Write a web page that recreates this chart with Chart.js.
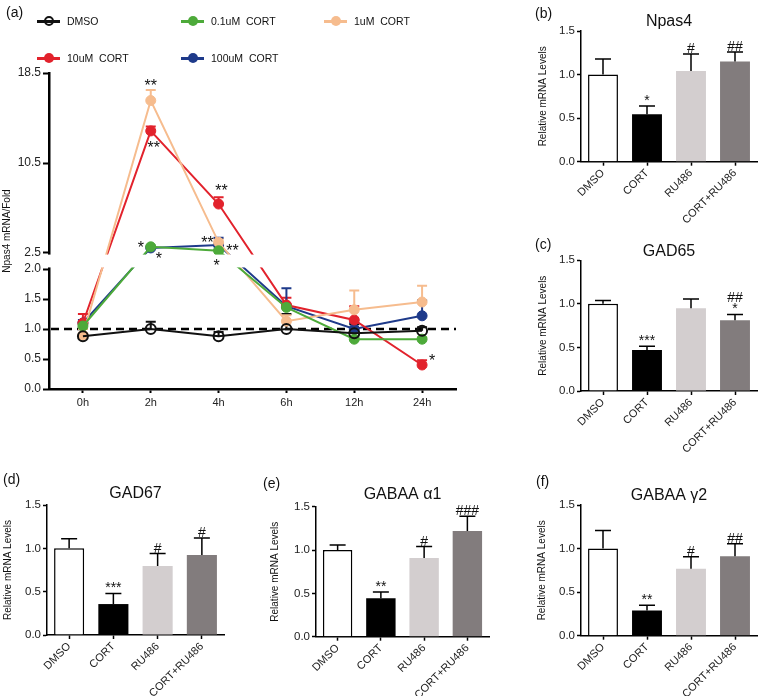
<!DOCTYPE html>
<html>
<head>
<meta charset="utf-8">
<script src="https://cdn.jsdelivr.net/npm/chart.js@4.4.1/dist/chart.umd.min.js"></script>
<style>
  body { margin: 0; background: #fff; font-family: "Liberation Sans", Arial, sans-serif; }
  #fig { position: relative; width: 760px; height: 696px; overflow: hidden; background: #fff; }
  #fig canvas { position: absolute; }
  .tag { position: absolute; font-size: 14px; line-height: 14px; color: #111; }
  .leg { position: absolute; font-size: 10.5px; line-height: 12px; color: #111; white-space: pre; }
  .mk { position: absolute; width: 23px; height: 2.5px; }
  .mk i { position: absolute; left: 6.5px; top: -4px; width: 10px; height: 10px; border-radius: 50%; box-sizing: border-box; }
</style>
</head>
<body>
<div id="fig">
  <canvas id="cA" width="490" height="440" style="left:0;top:0"></canvas>
  <canvas id="cB" width="260" height="232" style="left:500px;top:0"></canvas>
  <canvas id="cC" width="260" height="232" style="left:500px;top:220px"></canvas>
  <canvas id="cD" width="250" height="246" style="left:0;top:450px"></canvas>
  <canvas id="cE" width="250" height="246" style="left:250px;top:450px"></canvas>
  <canvas id="cF" width="260" height="246" style="left:500px;top:450px"></canvas>
  <div id="legendA"></div>
  <div class="tag" style="left:6px;top:5px">(a)</div>
  <div class="tag" style="left:535px;top:6px">(b)</div>
  <div class="tag" style="left:535px;top:237px">(c)</div>
  <div class="tag" style="left:3px;top:472px">(d)</div>
  <div class="tag" style="left:263px;top:476px">(e)</div>
  <div class="tag" style="left:536px;top:474px">(f)</div>
</div>
<script>
// ---- (a) time course, Npas4 fold change ----
const TIME_POINTS = ['0h', '2h', '4h', '6h', '12h', '24h'];
const SERIES_LABELS = ['DMSO', '0.1uM  CORT', '1uM  CORT', '10uM  CORT', '100uM  CORT'];
const SERIES_COLORS = ['#111111', '#4DAA3A', '#F6BC8E', '#E2222C', '#1E3A8A'];

const DMSO_FOLD = [0.88, 1.0, 0.88, 1.0, 0.93, 0.97];
const DMSO_SEM = [0.12, 0.12, 0.07, 0.25, 0.15, 0.06];
const CORT_01_FOLD = [1.05, 3.05, 2.7, 1.36, 0.83, 0.83];
const CORT_01_SEM = [0.06, 0.1, 0.1, 0.05, 0.04, 0.03];
const CORT_1_FOLD = [0.9, 16.05, 3.45, 1.13, 1.32, 1.45];
const CORT_1_SEM = [0.1, 0.95, 0.3, 0.1, 0.32, 0.27];
const CORT_10_FOLD = [1.1, 13.35, 6.85, 1.4, 1.15, 0.4];
const CORT_10_SEM = [0.15, 0.4, 0.6, 0.12, 0.23, 0.08];
const CORT_100_FOLD = [1.1, 2.95, 3.2, 1.38, 1.0, 1.22];
const CORT_100_SEM = [0.05, 0.1, 0.65, 0.3, 0.1, 0.26];

const FOLD_TICKS = [0, 0.5, 1.0, 1.5, 2.0, 2.5, 10.5, 18.5];
const BASELINE_FOLD = 1.0;

// significance marks: [series, time point, text]
const TIME_MARKS = [[2, 1, '**'], [3, 1, '**'], [3, 2, '**'], [1, 1, '*'], [4, 1, '*'],
                    [2, 2, '**'], [4, 2, '**'], [1, 2, '*'], [3, 5, '*']];
// where each mark sits relative to its point, in px
const TIME_MARK_OFFSETS = [[0, -19], [3, 13], [3, -17], [-10, -3], [8, 7],
                           [-11, -3], [14, 2], [-2, 11], [10, -8]];

// ---- (b)-(f) relative mRNA levels ----
const GROUPS = ['DMSO', 'CORT', 'RU486', 'CORT+RU486'];
const GROUP_FILLS = ['#ffffff', '#000000', '#D3CECF', '#827C7D'];

const NPAS4_LEVEL = [1.0, 0.545, 1.04, 1.15];
const NPAS4_SEM = [0.18, 0.095, 0.195, 0.11];
const NPAS4_MARKS = ['', '*', '#', '##'];

const GAD65_LEVEL = [1.0, 0.47, 0.95, 0.813];
const GAD65_SEM = [0.04, 0.045, 0.107, 0.065];
const GAD65_MARKS = ['', '***', '', '##\n*'];

const GAD67_LEVEL = [1.0, 0.357, 0.796, 0.923];
const GAD67_SEM = [0.11, 0.123, 0.144, 0.197];
const GAD67_MARKS = ['', '***', '#', '#'];

const GABRA1_LEVEL = [1.0, 0.443, 0.908, 1.22];
const GABRA1_SEM = [0.058, 0.073, 0.132, 0.17];
const GABRA1_MARKS = ['', '**', '#', '###'];

const GABRG2_LEVEL = [1.0, 0.29, 0.767, 0.913];
const GABRG2_SEM = [0.207, 0.06, 0.138, 0.141];
const GABRG2_MARKS = ['', '**', '#', '##'];

Chart.defaults.font.family = '"Liberation Sans", Arial, sans-serif';
Chart.defaults.color = '#222';

// y scale with a break between 2.0 and 2.5 (GraphPad style)
const BREAK_LOW = 2.0, BREAK_HIGH = 2.5;
const LOWER_SHARE = 120 / 316, GAP_SHARE = 16 / 316;

class BrokenLinearScale extends Chart.LinearScale {
  toDecimal(v) {
    if (v <= BREAK_LOW) return (v - this.min) / (BREAK_LOW - this.min) * LOWER_SHARE;
    if (v <= BREAK_HIGH) return LOWER_SHARE + (v - BREAK_LOW) / (BREAK_HIGH - BREAK_LOW) * GAP_SHARE;
    return LOWER_SHARE + GAP_SHARE + (v - BREAK_HIGH) / (this.max - BREAK_HIGH) * (1 - LOWER_SHARE - GAP_SHARE);
  }
  getPixelForValue(v) {
    if (v === null || isNaN(v)) return NaN;
    return this.getPixelForDecimal(this.toDecimal(v));
  }
  getValueForPixel(p) {
    const d = this.getDecimalForPixel(p);
    if (d <= LOWER_SHARE) return this.min + d / LOWER_SHARE * (BREAK_LOW - this.min);
    if (d <= LOWER_SHARE + GAP_SHARE) return BREAK_LOW + (d - LOWER_SHARE) / GAP_SHARE * (BREAK_HIGH - BREAK_LOW);
    return BREAK_HIGH + (d - LOWER_SHARE - GAP_SHARE) / (1 - LOWER_SHARE - GAP_SHARE) * (this.max - BREAK_HIGH);
  }
}
BrokenLinearScale.id = 'brokenLinear';
BrokenLinearScale.defaults = Chart.LinearScale.defaults;
Chart.register(BrokenLinearScale);

// SEM whiskers (upper only)
function drawErrorBars(chart, opts) {
  const ctx = chart.ctx, y = chart.scales.y;
  chart.data.datasets.forEach((ds, i) => {
    if (!ds.errors) return;
    const meta = chart.getDatasetMeta(i);
    ctx.save();
    ctx.strokeStyle = ds.errorColor || '#000';
    ctx.lineWidth = opts.width;
    meta.data.forEach((el, j) => {
      const base = y.getPixelForValue(ds.data[j]);
      const top = y.getPixelForValue(ds.data[j] + ds.errors[j]);
      ctx.beginPath();
      ctx.moveTo(el.x, base);
      ctx.lineTo(el.x, top);
      ctx.moveTo(el.x - opts.cap / 2, top);
      ctx.lineTo(el.x + opts.cap / 2, top);
      ctx.stroke();
    });
    ctx.restore();
  });
}
const errorBars = {
  id: 'errorBars',
  beforeDatasetsDraw(chart, args, opts) { if (opts.under) drawErrorBars(chart, opts); },
  afterDatasetsDraw(chart, args, opts) { if (!opts.under) drawErrorBars(chart, opts); }
};

// dashed line at fold = 1
const refLine = {
  id: 'refLine',
  beforeDatasetsDraw(chart) {
    const {ctx, chartArea} = chart;
    const yy = chart.scales.y.getPixelForValue(BASELINE_FOLD);
    ctx.save();
    ctx.strokeStyle = '#000';
    ctx.lineWidth = 2.5;
    ctx.setLineDash([8, 5]);
    ctx.beginPath();
    ctx.moveTo(chartArea.left + 2, yy);
    ctx.lineTo(chartArea.right, yy);
    ctx.stroke();
    ctx.restore();
  }
};

// white band hiding the axis and lines inside the break
const gapBand = {
  id: 'gapBand',
  afterDatasetsDraw(chart) {
    const {ctx, chartArea} = chart;
    const y = chart.scales.y;
    const top = y.getPixelForValue(BREAK_HIGH) + 1.6;
    const bottom = y.getPixelForValue(BREAK_LOW) - 1.6;
    ctx.save();
    ctx.fillStyle = '#fff';
    ctx.fillRect(chartArea.left - 3, top, chartArea.right - chartArea.left + 3, bottom - top);
    ctx.restore();
  }
};

const timeMarks = {
  id: 'timeMarks',
  afterDatasetsDraw(chart) {
    const ctx = chart.ctx;
    ctx.save();
    ctx.fillStyle = '#111';
    ctx.font = '16px "Liberation Sans", Arial, sans-serif';
    ctx.textAlign = 'center';
    ctx.textBaseline = 'alphabetic';
    TIME_MARKS.forEach(([s, t, txt], k) => {
      const el = chart.getDatasetMeta(s).data[t];
      const [dx, dy] = TIME_MARK_OFFSETS[k];
      ctx.fillText(txt, el.x + dx, el.y + dy + 9);
    });
    ctx.restore();
  }
};

const barMarks = {
  id: 'barMarks',
  afterDatasetsDraw(chart) {
    const ctx = chart.ctx, y = chart.scales.y;
    const ds = chart.data.datasets[0];
    const meta = chart.getDatasetMeta(0);
    ctx.save();
    ctx.fillStyle = '#111';
    ctx.font = '14px "Liberation Sans", Arial, sans-serif';
    ctx.textAlign = 'center';
    ctx.textBaseline = 'alphabetic';
    meta.data.forEach((el, j) => {
      const lines = (ds.marks[j] || '').split('\n').filter(Boolean).reverse();
      let base = y.getPixelForValue(ds.data[j] + ds.errors[j]) - 1;
      lines.forEach(t => { ctx.fillText(t, el.x, base); base -= 11; });
    });
    ctx.restore();
  }
};

// ---- legend for (a) ----
const LEGEND_SLOTS = [[37, 21.5], [181, 21.5], [324, 21.5], [37, 58.5], [181, 58.5]];
const legendBox = document.getElementById('legendA');
SERIES_LABELS.forEach((name, i) => {
  const [x, y] = LEGEND_SLOTS[i];
  const c = SERIES_COLORS[i];
  const mk = document.createElement('span');
  mk.className = 'mk';
  mk.style.cssText = `left:${x}px;top:${y - 1.25}px;background:${c}`;
  const dot = document.createElement('i');
  dot.style.cssText = i === 0 ? `border:2px solid ${c};background:transparent` : `background:${c}`;
  mk.appendChild(dot);
  legendBox.appendChild(mk);
  const lab = document.createElement('span');
  lab.className = 'leg';
  lab.style.cssText = `left:${x + 30}px;top:${y - 6.5}px`;
  lab.textContent = name;
  legendBox.appendChild(lab);
});

// ---- chart (a) ----
const FOLDS = [DMSO_FOLD, CORT_01_FOLD, CORT_1_FOLD, CORT_10_FOLD, CORT_100_FOLD];
const FOLD_SEMS = [DMSO_SEM, CORT_01_SEM, CORT_1_SEM, CORT_10_SEM, CORT_100_SEM];

new Chart(document.getElementById('cA'), {
  type: 'line',
  data: {
    labels: TIME_POINTS,
    datasets: FOLDS.map((vals, i) => ({
      label: SERIES_LABELS[i],
      data: vals,
      errors: FOLD_SEMS[i],
      errorColor: SERIES_COLORS[i],
      borderColor: SERIES_COLORS[i],
      borderWidth: 2,
      tension: 0,
      pointRadius: 5,
      pointBorderWidth: i === 0 ? 2 : 1,
      pointBorderColor: SERIES_COLORS[i],
      pointBackgroundColor: i === 0 ? 'rgba(0,0,0,0)' : SERIES_COLORS[i]
    }))
  },
  options: {
    responsive: false,
    animation: false,
    events: [],
    layout: { padding: { top: 73, right: 34, bottom: 21, left: 0 } },
    plugins: {
      legend: { display: false },
      tooltip: { enabled: false },
      errorBars: { under: true, width: 2, cap: 10 }
    },
    scales: {
      x: {
        offset: true,
        grid: { display: true, drawOnChartArea: false, offset: false, tickLength: 4, tickColor: '#000', tickWidth: 2 },
        border: { color: '#000', width: 2.5 },
        ticks: { font: { size: 11 }, padding: 3, color: '#222' },
        afterFit: s => { s.height = 30; }
      },
      y: {
        type: 'brokenLinear',
        min: 0,
        max: 18.5,
        afterBuildTicks: s => { s.ticks = FOLD_TICKS.map(v => ({ value: v })); },
        ticks: { autoSkip: false, callback: v => Number(v).toFixed(1), font: { size: 12 }, padding: 2, color: '#222' },
        grid: { drawOnChartArea: false, tickLength: 6, tickColor: '#000', tickWidth: 2 },
        border: { color: '#000', width: 2.5 },
        title: { display: true, text: 'Npas4 mRNA/Fold', font: { size: 10 }, color: '#111', padding: { top: 1.5, bottom: 0 } },
        afterFit: s => { s.width = 49; }
      }
    }
  },
  plugins: [refLine, errorBars, gapBand, timeMarks]
});

// ---- bar panels ----
function barPanel(id, title, levels, sems, marks, geo) {
  return new Chart(document.getElementById(id), {
    type: 'bar',
    data: {
      labels: GROUPS,
      datasets: [{
        data: levels,
        errors: sems,
        marks: marks,
        errorColor: '#000',
        backgroundColor: GROUP_FILLS,
        borderColor: '#000',
        borderWidth: [1.5, 0, 0, 0],
        categoryPercentage: 1,
        barPercentage: 0.68
      }]
    },
    options: {
      responsive: false,
      animation: false,
      events: [],
      layout: { padding: { top: 0, right: geo.padRight, bottom: 0, left: 0 } },
      plugins: {
        legend: { display: false },
        tooltip: { enabled: false },
        title: {
          display: true, text: title, fullSize: false, color: '#111',
          font: { size: 16, weight: 'normal', lineHeight: 1 },
          padding: { top: geo.titleTop, bottom: geo.titleGap }
        },
        errorBars: { under: false, width: 1.5, cap: 16 }
      },
      scales: {
        x: {
          grid: { display: true, drawOnChartArea: false, offset: false, tickLength: 4, tickColor: '#000', tickWidth: 1.5 },
          border: { color: '#000', width: 1.5 },
          ticks: { minRotation: 45, maxRotation: 45, font: { size: 11 }, padding: 1, color: '#222' },
          afterFit: s => { s.height = geo.xh; }
        },
        y: {
          min: 0,
          max: 1.5,
          ticks: { stepSize: 0.5, callback: v => Number(v).toFixed(1), font: { size: 11.5 }, padding: 2, color: '#222' },
          grid: { drawOnChartArea: false, tickLength: 4, tickColor: '#000', tickWidth: 1.5 },
          border: { color: '#000', width: 1.5 },
          title: { display: true, text: 'Relative mRNA Levels', font: { size: 10 }, color: '#111', padding: { top: geo.ytPad, bottom: 0 } },
          afterFit: s => { s.width = geo.left; }
        }
      }
    },
    plugins: [errorBars, barMarks]
  });
}

barPanel('cB', 'Npas4', NPAS4_LEVEL, NPAS4_SEM, NPAS4_MARKS,
  { left: 81, padRight: 3, xh: 70.3, titleTop: 14, titleGap: 1, ytPad: 37 });
barPanel('cC', 'GAD65', GAD65_LEVEL, GAD65_SEM, GAD65_MARKS,
  { left: 81, padRight: 3, xh: 61, titleTop: 23.7, titleGap: 0.6, ytPad: 37 });
barPanel('cD', 'GAD67', GAD67_LEVEL, GAD67_SEM, GAD67_MARKS,
  { left: 47, padRight: 26, xh: 61, titleTop: 36, titleGap: 3, ytPad: 2.7 });
barPanel('cE', 'GABAA α1', GABRA1_LEVEL, GABRA1_SEM, GABRA1_MARKS,
  { left: 66, padRight: 11, xh: 59.3, titleTop: 37, titleGap: 3.7, ytPad: 19 });
barPanel('cF', 'GABAA γ2', GABRG2_LEVEL, GABRG2_SEM, GABRG2_MARKS,
  { left: 81, padRight: 3, xh: 60.3, titleTop: 38, titleGap: 1, ytPad: 36.7 });
</script>
</body>
</html>
